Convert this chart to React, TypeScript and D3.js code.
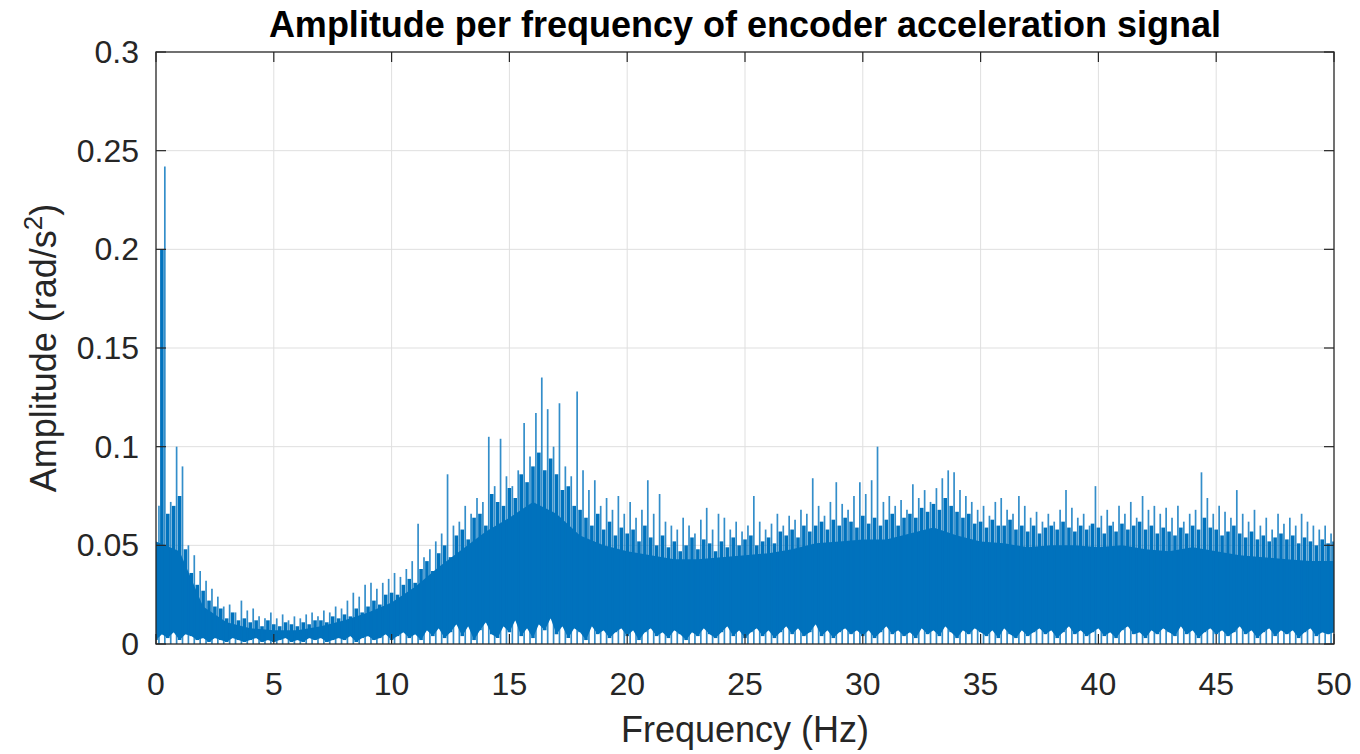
import React from "react";
import * as d3 from "d3";

// ---- Data ----
const X_TICKS = [0, 5, 10, 15, 20, 25, 30, 35, 40, 45, 50];
const Y_TICKS = [0, 0.05, 0.1, 0.15, 0.2, 0.25, 0.3];
const Y_TICK_LABELS = ["0", "0.05", "0.1", "0.15", "0.2", "0.25", "0.3"];

// Solid core of the spectrum, f = 0, 1, ... 50 Hz
const CORE_STEP = 1;
const CORE_TOP = [
  0.052, 0.047, 0.019, 0.011, 0.008, 0.007, 0.007, 0.009, 0.012, 0.016,
  0.021, 0.029, 0.039, 0.048, 0.057, 0.064, 0.072, 0.066, 0.055, 0.050,
  0.047, 0.045, 0.043, 0.043, 0.044, 0.045, 0.046, 0.048, 0.051, 0.052,
  0.053, 0.053, 0.056, 0.059, 0.055, 0.052, 0.051, 0.049, 0.050, 0.050,
  0.049, 0.050, 0.048, 0.047, 0.049, 0.047, 0.045, 0.044, 0.043, 0.042,
  0.042,
];

// Top of the dense lines, f = 0, 0.25, ... 50 Hz
const MASS_STEP = 0.25;
const MASS_TOP = [
  0.050, 0.200, 0.066, 0.070,
  0.075, 0.048, 0.036, 0.030,
  0.027, 0.022, 0.019, 0.018,
  0.013, 0.016, 0.012, 0.013,
  0.011, 0.012, 0.009, 0.012,
  0.010, 0.009, 0.011, 0.010,
  0.009, 0.011, 0.010, 0.012,
  0.012, 0.011, 0.014, 0.013,
  0.015, 0.014, 0.018, 0.016,
  0.019, 0.022, 0.020, 0.025,
  0.026, 0.025, 0.030, 0.033,
  0.031, 0.038, 0.042, 0.037,
  0.046, 0.050, 0.044, 0.055,
  0.058, 0.053, 0.064, 0.066,
  0.060, 0.076, 0.072, 0.070,
  0.079, 0.074, 0.086, 0.082,
  0.090, 0.097, 0.088, 0.094,
  0.086, 0.078, 0.080, 0.070,
  0.068, 0.064, 0.060, 0.066,
  0.058, 0.062, 0.055, 0.059,
  0.056, 0.058, 0.052, 0.060,
  0.054, 0.050, 0.055, 0.049,
  0.052, 0.047, 0.050, 0.054,
  0.048, 0.053, 0.051, 0.047,
  0.052, 0.049, 0.054, 0.050,
  0.053, 0.055, 0.050, 0.052,
  0.054, 0.051, 0.057, 0.055,
  0.058, 0.054, 0.060, 0.057,
  0.060, 0.062, 0.058, 0.063,
  0.060, 0.064, 0.062, 0.059,
  0.065, 0.061, 0.064, 0.060,
  0.063, 0.066, 0.060, 0.064,
  0.066, 0.064, 0.069, 0.067,
  0.071, 0.068, 0.074, 0.070,
  0.067, 0.064, 0.066, 0.061,
  0.062, 0.059, 0.063, 0.060,
  0.060, 0.063, 0.058, 0.060,
  0.057, 0.060, 0.056, 0.059,
  0.060, 0.058, 0.062, 0.059,
  0.057, 0.060, 0.058, 0.061,
  0.059, 0.056, 0.060, 0.057,
  0.061, 0.058, 0.060, 0.062,
  0.058, 0.060, 0.056, 0.059,
  0.057, 0.055, 0.059, 0.056,
  0.060, 0.058, 0.064, 0.059,
  0.058, 0.055, 0.057, 0.060,
  0.056, 0.054, 0.057, 0.053,
  0.055, 0.052, 0.054, 0.056,
  0.053, 0.055, 0.051, 0.054,
  0.052, 0.050, 0.053, 0.051,
  0.052,
];

// Spike tips, f = 0.125, 0.375, ... 49.875 Hz
const SPIKE_START = 0.125;
const SPIKE_STEP = 0.25;
const SPIKE_TOP = [
  0.070, 0.242, 0.072, 0.100,
  0.090, 0.050, 0.045, 0.037,
  0.032, 0.028, 0.024, 0.019,
  0.020, 0.016, 0.022, 0.017,
  0.018, 0.014, 0.013, 0.016,
  0.013, 0.015, 0.012, 0.014,
  0.013, 0.015, 0.016, 0.014,
  0.017, 0.016, 0.019, 0.018,
  0.022, 0.026, 0.024, 0.030,
  0.031, 0.028, 0.031, 0.033,
  0.036, 0.034, 0.038, 0.042,
  0.061, 0.044, 0.048, 0.052,
  0.056, 0.086, 0.060, 0.062,
  0.070, 0.066, 0.074, 0.072,
  0.105, 0.080, 0.104, 0.085,
  0.080, 0.088, 0.112, 0.095,
  0.117, 0.135, 0.119, 0.100,
  0.122, 0.090, 0.085, 0.128,
  0.088, 0.078, 0.083, 0.070,
  0.074, 0.068, 0.075, 0.066,
  0.072, 0.064, 0.068, 0.083,
  0.066, 0.076, 0.062, 0.060,
  0.058, 0.064, 0.060, 0.056,
  0.063, 0.069, 0.058, 0.066,
  0.064, 0.058, 0.062, 0.057,
  0.060, 0.075, 0.062, 0.058,
  0.061, 0.066, 0.060, 0.065,
  0.063, 0.068, 0.066, 0.084,
  0.070, 0.065, 0.072, 0.082,
  0.071, 0.068, 0.075, 0.082,
  0.076, 0.083, 0.100, 0.072,
  0.075, 0.070, 0.073, 0.068,
  0.081, 0.074, 0.078, 0.072,
  0.079, 0.084, 0.088, 0.087,
  0.078, 0.075, 0.072, 0.068,
  0.070, 0.065, 0.072, 0.074,
  0.068, 0.066, 0.075, 0.070,
  0.064, 0.067, 0.062, 0.066,
  0.062, 0.068, 0.078, 0.069,
  0.064, 0.066, 0.060, 0.080,
  0.065, 0.068, 0.062, 0.070,
  0.066, 0.072, 0.064, 0.075,
  0.068, 0.070, 0.066, 0.069,
  0.064, 0.070, 0.062, 0.066,
  0.068, 0.087, 0.074, 0.066,
  0.070, 0.067, 0.064, 0.078,
  0.066, 0.062, 0.068, 0.060,
  0.064, 0.058, 0.066, 0.061,
  0.064, 0.060, 0.066, 0.062,
  0.060, 0.058, 0.060, 0.056,
];

// Height of the white gaps at the bottom, f = 0, 0.25, ... 50 Hz
const GAP_STEP = 0.25;
const GAP_TOP = [
  0.002, 0.005, 0.003, 0.006,
  0.002, 0.005, 0.004, 0.002,
  0.003, 0.001, 0.003, 0.002,
  0.001, 0.003, 0.002, 0.001,
  0.002, 0.003, 0.001, 0.002,
  0.001, 0.002, 0.003, 0.001,
  0.002, 0.001, 0.003, 0.002,
  0.003, 0.001, 0.002, 0.003,
  0.002, 0.004, 0.001, 0.003,
  0.004, 0.002, 0.003, 0.005,
  0.002, 0.004, 0.006, 0.003,
  0.005, 0.002, 0.007, 0.004,
  0.008, 0.003, 0.006, 0.010,
  0.004, 0.009, 0.002, 0.007,
  0.011, 0.005, 0.003, 0.009,
  0.006, 0.012, 0.004, 0.008,
  0.003, 0.010, 0.007, 0.013,
  0.005, 0.009, 0.003, 0.008,
  0.006, 0.002, 0.009, 0.005,
  0.007, 0.003, 0.006, 0.008,
  0.004, 0.007, 0.002, 0.006,
  0.008, 0.004, 0.006, 0.003,
  0.007, 0.005, 0.002, 0.006,
  0.004, 0.008, 0.005, 0.003,
  0.006, 0.009, 0.004, 0.007,
  0.003, 0.006, 0.008, 0.004,
  0.007, 0.003, 0.006, 0.009,
  0.005, 0.008, 0.004, 0.006,
  0.010, 0.004, 0.007, 0.003,
  0.006, 0.008, 0.005, 0.007,
  0.004, 0.007, 0.003, 0.006,
  0.009, 0.005, 0.007, 0.004,
  0.006, 0.003, 0.008, 0.005,
  0.007, 0.004, 0.009, 0.006,
  0.003, 0.007, 0.005, 0.008,
  0.006, 0.004, 0.007, 0.003,
  0.008, 0.005, 0.003, 0.007,
  0.004, 0.006, 0.008, 0.005,
  0.007, 0.003, 0.006, 0.009,
  0.005, 0.007, 0.004, 0.006,
  0.008, 0.004, 0.006, 0.003,
  0.007, 0.009, 0.005, 0.006,
  0.003, 0.007, 0.005, 0.008,
  0.006, 0.004, 0.009, 0.005,
  0.007, 0.003, 0.006, 0.008,
  0.005, 0.007, 0.004, 0.006,
  0.009, 0.005, 0.007, 0.003,
  0.006, 0.008, 0.004, 0.007,
  0.005, 0.007, 0.003, 0.006,
  0.008, 0.004, 0.006, 0.005,
  0.006,
];

const TITLE = "Amplitude per frequency of encoder acceleration signal";
const X_LABEL = "Frequency (Hz)";

// ---- Layout ----
const W = 1360;
const H = 754;
const LEFT = 156;
const RIGHT = 1334;
const TOP = 52;
const BOTTOM = 644;
const LINE = "#0072BD";
const AXIS = "#262626";
const GRID = "#dfdfdf";
const FONT = "'Liberation Sans', Arial, Helvetica, sans-serif";

export default function App() {
  const x = d3.scaleLinear().domain([0, 50]).range([LEFT, RIGHT]);
  const y = d3.scaleLinear().domain([0, 0.3]).range([BOTTOM, TOP]);

  const coreArea = d3
    .area<number>()
    .x((_, i) => x(i * CORE_STEP))
    .y0(y(0))
    .y1((d) => y(d))
    .curve(d3.curveLinear)(CORE_TOP) as string;

  const gapArea = d3
    .area<number>()
    .x((_, i) => x(i * GAP_STEP))
    .y0(y(0) + 1)
    .y1((d) => y(d))
    .curve(d3.curveLinear)(GAP_TOP) as string;

  const tick = 10;

  return (
    <svg width={W} height={H} style={{ display: "block", position: "absolute", left: 0, top: 0, background: "#fff" }}>
      <rect x={0} y={0} width={W} height={H} fill="#ffffff" />
      <defs>
        <clipPath id="plotClip">
          <rect x={LEFT} y={TOP} width={RIGHT - LEFT} height={BOTTOM - TOP} />
        </clipPath>
      </defs>

      {/* grid */}
      <g stroke={GRID} strokeWidth={1}>
        {X_TICKS.slice(1, -1).map((t) => (
          <line key={"gx" + t} x1={x(t)} x2={x(t)} y1={TOP} y2={BOTTOM} />
        ))}
        {Y_TICKS.slice(1, -1).map((t) => (
          <line key={"gy" + t} x1={LEFT} x2={RIGHT} y1={y(t)} y2={y(t)} />
        ))}
      </g>

      {/* data */}
      <g clipPath="url(#plotClip)">
        <path d={coreArea} fill={LINE} />
        <path d={gapArea} fill="#ffffff" />
        <g stroke={LINE} strokeWidth={3.6}>
          {MASS_TOP.map((v, i) => {
            const f = i * MASS_STEP;
            return <line key={"m" + i} x1={x(f)} x2={x(f)} y1={y(GAP_TOP[i])} y2={y(v)} />;
          })}
        </g>
        <g stroke={LINE} strokeWidth={1.7} strokeOpacity={0.8}>
          {SPIKE_TOP.map((v, i) => {
            const f = SPIKE_START + i * SPIKE_STEP;
            return <line key={"s" + i} x1={x(f)} x2={x(f)} y1={y(0)} y2={y(v)} />;
          })}
        </g>
      </g>

      {/* box */}
      <rect x={LEFT} y={TOP} width={RIGHT - LEFT} height={BOTTOM - TOP} fill="none" stroke={AXIS} strokeWidth={1.3} />

      {/* ticks */}
      <g stroke={AXIS} strokeWidth={1.2}>
        {X_TICKS.map((t) => (
          <g key={"tx" + t}>
            <line x1={x(t)} x2={x(t)} y1={BOTTOM} y2={BOTTOM - tick} />
            <line x1={x(t)} x2={x(t)} y1={TOP} y2={TOP + tick} />
          </g>
        ))}
        {Y_TICKS.map((t) => (
          <g key={"ty" + t}>
            <line x1={LEFT} x2={LEFT + tick} y1={y(t)} y2={y(t)} />
            <line x1={RIGHT} x2={RIGHT - tick} y1={y(t)} y2={y(t)} />
          </g>
        ))}
      </g>

      {/* tick labels */}
      <g fill={AXIS} fontFamily={FONT} fontSize={32}>
        {X_TICKS.map((t) => (
          <text key={"lx" + t} x={x(t)} y={695} textAnchor="middle">
            {String(t)}
          </text>
        ))}
        {Y_TICKS.map((t, i) => (
          <text key={"ly" + t} x={139} y={y(t) + 11} textAnchor="end">
            {Y_TICK_LABELS[i]}
          </text>
        ))}
      </g>

      {/* title */}
      <text x={(LEFT + RIGHT) / 2} y={37} textAnchor="middle" fontFamily={FONT} fontWeight="bold" fontSize={36} fill="#000">
        {TITLE}
      </text>

      {/* x label */}
      <text x={(LEFT + RIGHT) / 2} y={742} textAnchor="middle" fontFamily={FONT} fontSize={36} fill={AXIS}>
        {X_LABEL}
      </text>

      {/* y label */}
      <text
        transform={`translate(56, ${(TOP + BOTTOM) / 2}) rotate(-90)`}
        textAnchor="middle"
        fontFamily={FONT}
        fontSize={36}
        fill={AXIS}
      >
        Amplitude (rad/s
        <tspan dy={-14} fontSize={26}>2</tspan>
        <tspan dy={14}>)</tspan>
      </text>
    </svg>
  );
}
